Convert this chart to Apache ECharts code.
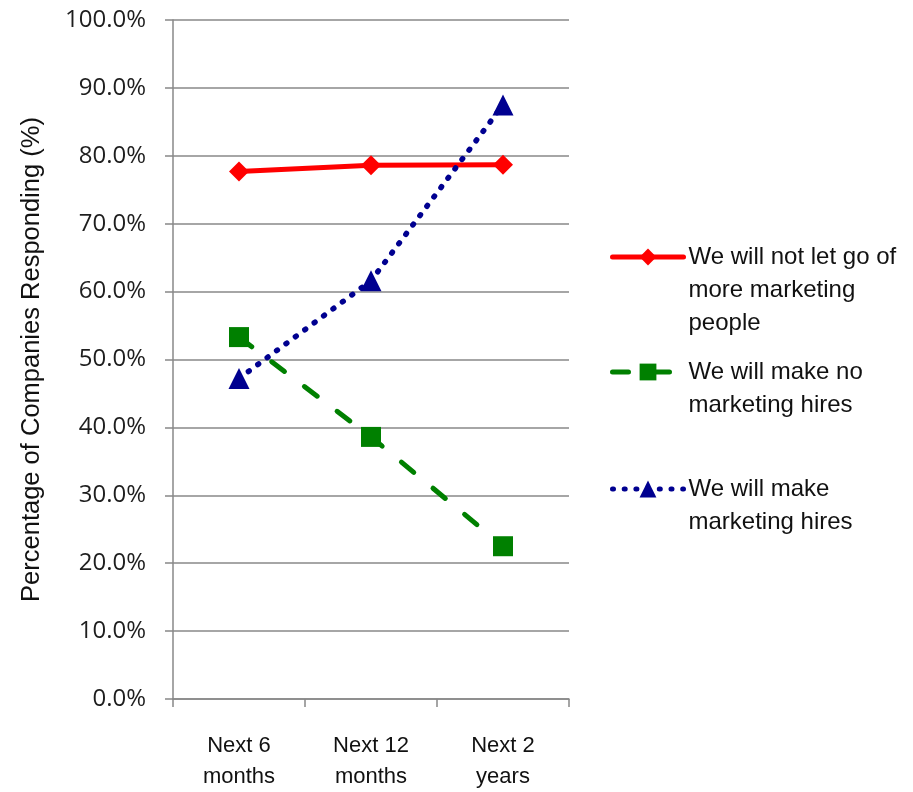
<!DOCTYPE html>
<html>
<head>
<meta charset="utf-8">
<script src="https://cdn.jsdelivr.net/npm/echarts@6/dist/echarts.min.js"></script>
<style>
  html, body { margin: 0; padding: 0; background: #fff; }
  #chart { width: 913px; height: 792px; }
</style>
</head>
<body>
<div id="chart"></div>
<script>
// Survey periods and the share of companies giving each answer (%)
const categories = ['Next 6\nmonths', 'Next 12\nmonths', 'Next 2\nyears'];
const seriesNames = [
  'We will not let go of\nmore marketing\npeople',
  'We will make no\nmarketing hires',
  'We will make\nmarketing hires'
];
const notLetGo = [77.7, 78.6, 78.7];
const noHires = [53.3, 38.6, 22.5];
const makeHires = [47.2, 61.6, 87.5];
const yMin = 0, yMax = 100, yStep = 10;

const textFont = "'Liberation Sans', Arial, sans-serif";
const tickFont = "'Open Sans', 'Noto Sans', sans-serif";
const gridGray = '#888888';
const legendLine = 33;

// One legend block per series; blank lines are prepended so that the
// first line of the label sits level with the icon
function legendFor(name, iconY) {
  const lines = name.split('\n').length;
  return {
    data: [name],
    orient: 'vertical',
    left: 610,
    top: iconY - (2 * lines - 1) * legendLine / 2,
    padding: 0,
    itemWidth: 71,
    itemHeight: 21,
    selectedMode: false,
    formatter: n => '\n'.repeat(lines - 1) + n,
    lineStyle: { width: 5, cap: 'round' },
    textStyle: {
      fontFamily: textFont,
      fontSize: 24,
      lineHeight: legendLine,
      color: '#111'
    }
  };
}

const chart = echarts.init(document.getElementById('chart'), null, { renderer: 'canvas' });
chart.setOption({
  animation: false,
  backgroundColor: '#fff',
  grid: { left: 173, right: 344, top: 20, bottom: 92, containLabel: false },
  legend: [
    legendFor(seriesNames[0], 257),
    legendFor(seriesNames[1], 372),
    legendFor(seriesNames[2], 489)
  ],
  xAxis: {
    type: 'category',
    data: categories,
    boundaryGap: true,
    axisLine: { lineStyle: { color: gridGray, width: 1.5 } },
    axisTick: { show: true, length: 8, lineStyle: { color: gridGray, width: 1.5 } },
    axisLabel: {
      margin: 31,
      fontFamily: textFont,
      fontSize: 22,
      lineHeight: 31,
      color: '#111'
    },
    splitLine: { show: false }
  },
  yAxis: {
    type: 'value',
    min: yMin,
    max: yMax,
    interval: yStep,
    name: 'Percentage of Companies Responding (%)',
    nameLocation: 'middle',
    nameGap: 128,
    nameTextStyle: { fontFamily: textFont, fontSize: 25.5, color: '#111' },
    axisLine: { show: true, lineStyle: { color: gridGray, width: 1.5 } },
    axisTick: { show: true, length: 8, lineStyle: { color: gridGray, width: 1.5 } },
    axisLabel: {
      margin: 27,
      fontFamily: tickFont,
      fontSize: 24,
      color: '#1e1e1e',
      formatter: v => v.toFixed(1) + '%'
    },
    splitLine: { show: true, lineStyle: { color: gridGray, width: 1.5 } }
  },
  series: [
    {
      name: seriesNames[0],
      type: 'line',
      data: notLetGo,
      symbol: 'diamond',
      symbolSize: 20,
      color: '#ff0000',
      lineStyle: { color: '#ff0000', width: 5 },
      itemStyle: { color: '#ff0000' },
      z: 3
    },
    {
      name: seriesNames[1],
      type: 'line',
      data: noHires,
      symbol: 'rect',
      symbolSize: 20,
      color: '#008000',
      lineStyle: { color: '#008000', width: 5, type: [16, 25], cap: 'round' },
      itemStyle: { color: '#008000' },
      z: 2
    },
    {
      name: seriesNames[2],
      type: 'line',
      data: makeHires,
      symbol: 'triangle',
      symbolSize: 21,
      color: '#000090',
      lineStyle: { color: '#000090', width: 5.5, type: [1, 10.7], cap: 'round' },
      itemStyle: { color: '#000090' },
      z: 4
    }
  ]
});
</script>
</body>
</html>
